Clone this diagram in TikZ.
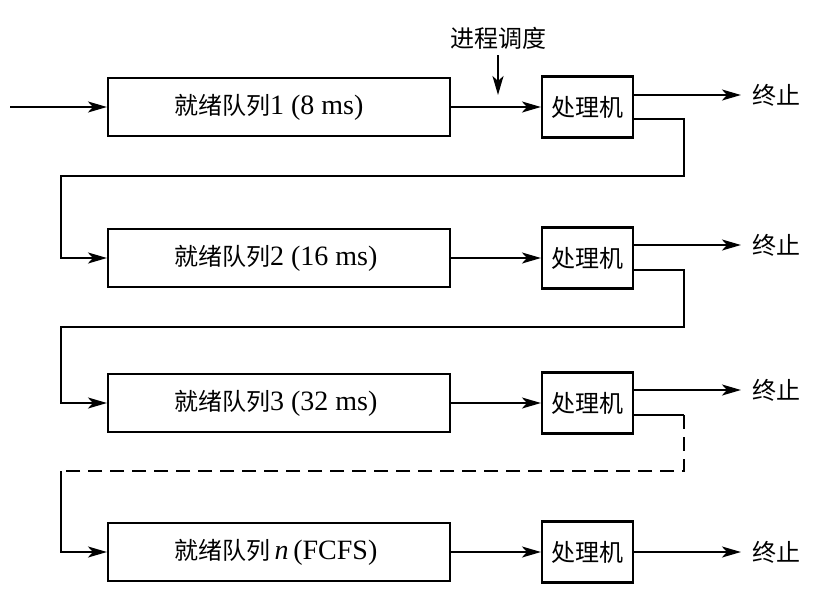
\documentclass[tikz,border=0pt]{standalone}
\usepackage{fontspec}
\setmainfont{Liberation Serif}
\newfontfamily\cjk{Noto Sans CJK SC}
\usetikzlibrary{arrows.meta}

\begin{document}
\begin{tikzpicture}[x=1pt, y=-1pt, line width=2.1pt,
  queuebox/.style={draw, minimum width=342pt, minimum height=58pt, inner sep=0pt},
  cpubox/.style={draw, minimum width=91pt, minimum height=61pt, inner sep=0pt,
    font=\cjk\fontsize{24}{26}\selectfont},
  qtext/.style={anchor=west, inner sep=0pt, font=\fontsize{28}{30}\selectfont},
  cjkpart/.style={},
  lbl/.style={inner sep=0pt, font=\cjk\fontsize{24}{26}\selectfont},
  flow/.style={-{Stealth[length=19pt, width=11pt, inset=5pt]}},
  pending/.style={dash pattern=on 14pt off 8pt}]
\useasboundingbox (0,0) rectangle (821,600);

% ready queues
\node[queuebox] (q1) at (279,107) {};
\node[queuebox] (q2) at (279,258) {};
\node[queuebox] (q3) at (279,403) {};
\node[queuebox] (q4) at (279,552) {};
\node[qtext] (t1) at ([xshift=66pt]q1.west) {{\cjk\fontsize{24}{26}\selectfont 就绪队列}1 (8 ms)};
\node[qtext] (t2) at ([xshift=66pt]q2.west) {{\cjk\fontsize{24}{26}\selectfont 就绪队列}2 (16 ms)};
\node[qtext] (t3) at ([xshift=66pt]q3.west) {{\cjk\fontsize{24}{26}\selectfont 就绪队列}3 (32 ms)};
\node[qtext] (t4) at ([xshift=66pt]q4.west) {{\cjk\fontsize{24}{26}\selectfont 就绪队列}\,\textit{n}\,(FCFS)};

% processors
\node[cpubox] (p1) at (587.5,107) {处理机};
\node[cpubox] (p2) at (587.5,258) {处理机};
\node[cpubox] (p3) at (587.5,403) {处理机};
\node[cpubox] (p4) at (587.5,552) {处理机};

% termination labels
\node[lbl] (e1) at (776,95) {终止};
\node[lbl] (e2) at (776,245) {终止};
\node[lbl] (e3) at (776,390) {终止};
\node[lbl] (e4) at (776,552) {终止};

% scheduler label
\node[lbl] (sched) at (498,38) {进程调度};
\coordinate (s1) at (498,95);
\draw[flow] ([yshift=-5pt]sched.south) -- (s1);

% incoming processes
\coordinate (in) at (10,107);
\draw[flow] (in) -- (q1.west);

% queue -> processor
\draw[flow] (q1.east) -- (p1.west);
\draw[flow] (q2.east) -- (p2.west);
\draw[flow] (q3.east) -- (p3.west);
\draw[flow] (q4.east) -- (p4.west);

% processor -> termination
\draw[flow] (p1.east |- e1) -- ([xshift=-10pt]e1.west);
\draw[flow] (p2.east |- e2) -- ([xshift=-10pt]e2.west);
\draw[flow] (p3.east |- e3) -- ([xshift=-10pt]e3.west);
\draw[flow] (p4.east) -- ([xshift=-10pt]e4.west);

% demotion to the next queue
\coordinate (c1) at (684,176);
\coordinate (d1) at (61,176);
\coordinate (c2) at (684,327);
\coordinate (d2) at (61,327);
\coordinate (c3a) at (684,415);
\coordinate (c3) at (684,471);
\coordinate (d3) at (61,471);
\draw[flow] ([yshift=-12pt]p1.east) -| (c1) -- (d1) |- (q2.west);
\draw[flow] ([yshift=-12pt]p2.east) -| (c2) -- (d2) |- (q3.west);
\draw ([yshift=-12pt]p3.east) -- (c3a);
\draw[pending] (c3a) -- (c3) -- (d3);
\draw[flow] (d3) |- (q4.west);
\end{tikzpicture}
\end{document}
